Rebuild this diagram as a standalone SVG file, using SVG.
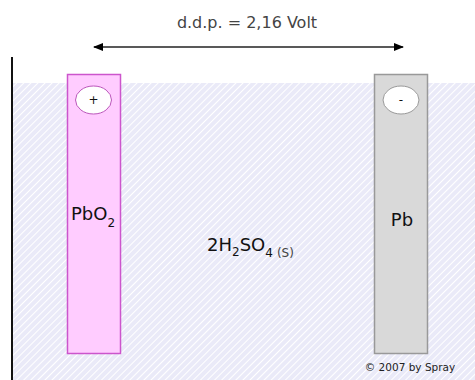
<svg xmlns="http://www.w3.org/2000/svg" width="475" height="380" viewBox="0 0 475 380">
<defs>
<pattern id="hatch" width="5" height="5" patternUnits="userSpaceOnUse" patternTransform="rotate(45)">
<rect width="5" height="5" fill="#eaeaf8"/>
<line x1="0" y1="0" x2="0" y2="5" stroke="#ffffff" stroke-width="2"/>
</pattern>
<marker id="ah" viewBox="0 0 10 10" refX="9" refY="5" markerWidth="10" markerHeight="10" markerUnits="userSpaceOnUse" orient="auto-start-reverse">
<path d="M0,1 L10,5 L0,9 Z" fill="#000"/>
</marker>
</defs>
<style>
text{font-family:Tahoma,"DejaVu Sans","Liberation Sans",sans-serif;fill:#111}
.lbl{font-size:18px}
.sub{font-size:12px}
.sign{font-size:12px}
</style>
<rect width="475" height="380" fill="#ffffff"/>
<g id="electrolyte">
<rect x="13" y="83" width="462" height="297" fill="url(#hatch)"/>
<text x="207" y="251" class="lbl">2H<tspan class="sub" dy="5">2</tspan><tspan dy="-5">SO</tspan><tspan class="sub" dy="6">4</tspan><tspan dx="4" style="font-size:12px;fill:#444">(S)</tspan></text>
</g>
<g id="container">
<line x1="12" y1="57" x2="12" y2="380" stroke="#111" stroke-width="2"/>
</g>
<g id="cathode-PbO2">
<rect x="67.5" y="74.5" width="53" height="279" fill="#ffccff" stroke="#cc55cc" stroke-width="1.5"/>
<ellipse cx="93.5" cy="100" rx="18" ry="14" fill="#fff" stroke="#bb55bb" stroke-width="1"/>
<text x="93.5" y="104" text-anchor="middle" class="sign">+</text>
<text x="71" y="220" class="lbl">PbO<tspan class="sub" dy="7">2</tspan></text>
</g>
<g id="anode-Pb">
<rect x="374.5" y="74.5" width="53" height="279" fill="#d9d9d9" stroke="#999" stroke-width="1.5"/>
<ellipse cx="401" cy="100" rx="18" ry="14" fill="#fff" stroke="#999" stroke-width="1"/>
<text x="401" y="104" text-anchor="middle" class="sign">-</text>
<text x="402" y="226" text-anchor="middle" class="lbl">Pb</text>
</g>
<g id="connectors">
<line x1="94" y1="47" x2="403" y2="47" stroke="#222" stroke-width="1.5" marker-start="url(#ah)" marker-end="url(#ah)"/>
</g>
<text x="247" y="28" text-anchor="middle" style="font-size:16px;fill:#444">d.d.p. = 2,16 Volt</text>
<text x="410" y="371" text-anchor="middle" style="font-size:10.5px;fill:#222">© 2007 by Spray</text>
</svg>
